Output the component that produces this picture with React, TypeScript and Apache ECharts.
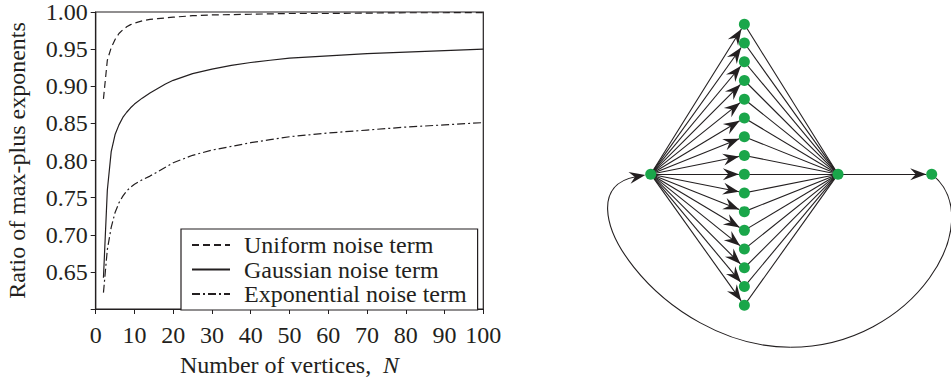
import React, { useEffect, useRef } from 'react';
import * as echarts from 'echarts';

// ---------- Left panel data ----------
const vertexCounts = [2, 3, 4, 5, 6, 7, 8, 9, 10, 12, 14, 16, 18, 20, 25, 30, 35, 40, 45, 50, 60, 70, 80, 90, 100];
const uniformRatio = [0.883, 0.935, 0.952, 0.963, 0.971, 0.976, 0.98, 0.983, 0.985, 0.988, 0.99, 0.991, 0.992, 0.993, 0.995, 0.996, 0.9965, 0.997, 0.9975, 0.998, 0.998, 0.9985, 0.999, 0.999, 0.9992];
const gaussianRatio = [0.642, 0.76, 0.812, 0.835, 0.848, 0.858, 0.865, 0.871, 0.876, 0.884, 0.891, 0.897, 0.903, 0.908, 0.917, 0.923, 0.928, 0.932, 0.935, 0.938, 0.941, 0.944, 0.946, 0.948, 0.95];
const exponentialRatio = [0.622, 0.68, 0.71, 0.73, 0.743, 0.752, 0.759, 0.764, 0.768, 0.774, 0.779, 0.785, 0.791, 0.797, 0.807, 0.814, 0.819, 0.824, 0.828, 0.832, 0.837, 0.841, 0.845, 0.848, 0.851];
const seriesNames = ['Uniform noise term', 'Gaussian noise term', 'Exponential noise term'];
const xTickRange = { min: 0, max: 100, step: 10 };
const yTickRange = { min: 0.6, max: 1.0, step: 0.05 };

// ---------- Right panel (graph) data, in graph units ----------
const middleRows = [8, 7, 6, 5, 4, 3, 2, 1, 0, -1, -2, -3, -4, -5, -6, -7];
const middleColumn = 1;
const sourceNode = [0, 0];
const hubNode = [2, 0];
const sinkNode = [3, 0];
const loopRightCurve = [[3, 0], [3.62, -2.46], [2.82, -9.24], [1.49, -9.24]];
const loopLeftCurve = [[1.49, -9.24], [0.1, -9.24], [-1.02, -0.9], [0, 0]];

const INK = '#231f20';
const GREEN = '#1aa64a';
const SERIF = 'Liberation Serif';
const NODE_SIZE = 11;
const ARROW_LEN = 16;
const ARROW_W = 12;
const ARROW_PATH = 'path://M6,16 L12,32 L6,26.5 L0,32 Z M6,0 L6,0.01';

export default function App() {
  const ref = useRef<HTMLDivElement>(null);

  useEffect(() => {
    if (!ref.current) return;
    const chart = echarts.init(ref.current, undefined, { renderer: 'svg' });

    const zip = (vals: number[]) => vertexCounts.map((n, i) => [n, vals[i]]);

    const nodes: number[][] = [sourceNode, ...middleRows.map((r) => [middleColumn, r]), hubNode, sinkNode];
    const hubIdx = middleRows.length + 1;
    const sinkIdx = middleRows.length + 2;
    const links: any[] = [];
    middleRows.forEach((_, i) => {
      links.push({ source: 0, target: i + 1 });
    });
    middleRows.forEach((_, i) => {
      links.push({ source: i + 1, target: hubIdx, symbol: ['none', 'none'] });
    });
    links.push({ source: hubIdx, target: sinkIdx });

    const option: any = {
      animation: false,
      backgroundColor: '#ffffff',
      textStyle: { fontFamily: SERIF, color: INK },
      grid: [
        { left: 95.7, top: 12, width: 387.6, height: 305, show: true, borderColor: INK, borderWidth: 1.2, backgroundColor: 'transparent' },
        { left: 650.7, top: 24.3, width: 281, height: 281, show: false },
      ],
      xAxis: [
        {
          gridIndex: 0,
          type: 'value',
          min: xTickRange.min,
          max: xTickRange.max,
          interval: xTickRange.step,
          name: 'Number of vertices,  {n|N}',
          nameLocation: 'middle',
          nameGap: 44,
          nameTextStyle: {
            fontFamily: SERIF, fontSize: 24, color: INK,
            rich: { n: { fontFamily: SERIF, fontSize: 24, color: INK, fontStyle: 'italic' } },
          },
          axisLine: { show: true, lineStyle: { color: INK, width: 1.2 } },
          axisTick: { show: true, inside: false, length: 5, lineStyle: { color: INK, width: 1 } },
          axisLabel: { fontFamily: SERIF, fontSize: 24, color: INK, margin: 14, showMaxLabel: true, showMinLabel: true },
          splitLine: { show: false },
        },
        { gridIndex: 1, type: 'value', min: 0, max: 3, show: false },
      ],
      yAxis: [
        {
          gridIndex: 0,
          type: 'value',
          min: yTickRange.min,
          max: yTickRange.max,
          interval: yTickRange.step,
          name: 'Ratio of max-plus exponents',
          nameLocation: 'middle',
          nameGap: 67,
          nameTextStyle: { fontFamily: SERIF, fontSize: 24, color: INK },
          axisLine: { show: true, lineStyle: { color: INK, width: 1.2 } },
          axisTick: { show: true, inside: false, length: 5, lineStyle: { color: INK, width: 1 } },
          axisLabel: {
            fontFamily: SERIF, fontSize: 24, color: INK, margin: 8,
            formatter: (v: number) => (v < yTickRange.min + yTickRange.step / 2 ? '' : v.toFixed(2)),
          },
          splitLine: { show: false },
        },
        { gridIndex: 1, type: 'value', min: -7, max: 8, show: false },
      ],
      legend: {
        show: true,
        data: seriesNames,
        orient: 'vertical',
        left: 181,
        top: 229,
        padding: [4, 11, 4, 10],
        itemGap: 0.5,
        itemWidth: 38,
        itemHeight: 14,
        borderColor: INK,
        borderWidth: 1.2,
        borderRadius: 0,
        backgroundColor: '#ffffff',
        selectedMode: false,
        align: 'left',
        itemStyle: { opacity: 0 },
        textStyle: { fontFamily: SERIF, fontSize: 24, color: INK, lineHeight: 24, padding: [0, 0, 0, 9] },
      },
      series: [
        {
          name: seriesNames[0], type: 'line', xAxisIndex: 0, yAxisIndex: 0, data: zip(uniformRatio),
          symbol: 'none', showSymbol: false, lineStyle: { color: INK, width: 1.2, type: [7, 4] }, itemStyle: { color: INK }, silent: true, z: 3,
        },
        {
          name: seriesNames[1], type: 'line', xAxisIndex: 0, yAxisIndex: 0, data: zip(gaussianRatio),
          symbol: 'none', showSymbol: false, lineStyle: { color: INK, width: 1.2, type: 'solid' }, itemStyle: { color: INK }, silent: true, z: 3,
        },
        {
          name: seriesNames[2], type: 'line', xAxisIndex: 0, yAxisIndex: 0, data: zip(exponentialRatio),
          symbol: 'none', showSymbol: false, lineStyle: { color: INK, width: 1.2, type: [8, 3, 2, 3] }, itemStyle: { color: INK }, silent: true, z: 3,
        },
        {
          type: 'custom',
          coordinateSystem: 'cartesian2d',
          xAxisIndex: 1,
          yAxisIndex: 1,
          data: [sourceNode],
          silent: true,
          z: 2,
          renderItem: (_params: any, api: any) => {
            const r = loopRightCurve.map((p) => api.coord(p));
            const l = loopLeftCurve.map((p) => api.coord(p));
            const target = l[3];
            const dx = target[0] - l[2][0];
            const dy = target[1] - l[2][1];
            const len = Math.hypot(dx, dy) || 1;
            const ux = dx / len;
            const uy = dy / len;
            const nx = -uy;
            const ny = ux;
            const rad = NODE_SIZE / 2;
            const tip = [target[0] - ux * rad, target[1] - uy * rad];
            const back = [tip[0] - ux * ARROW_LEN, tip[1] - uy * ARROW_LEN];
            const notch = [tip[0] - ux * ARROW_LEN * 0.66, tip[1] - uy * ARROW_LEN * 0.66];
            const half = ARROW_W / 2;
            const end = [tip[0] - ux * ARROW_LEN * 0.6, tip[1] - uy * ARROW_LEN * 0.6];
            const stroke = { stroke: INK, lineWidth: 1.1, fill: null };
            return {
              type: 'group',
              children: [
                {
                  type: 'bezierCurve',
                  shape: { x1: r[0][0], y1: r[0][1], cpx1: r[1][0], cpy1: r[1][1], cpx2: r[2][0], cpy2: r[2][1], x2: r[3][0], y2: r[3][1] },
                  style: stroke,
                },
                {
                  type: 'bezierCurve',
                  shape: { x1: l[0][0], y1: l[0][1], cpx1: l[1][0], cpy1: l[1][1], cpx2: l[2][0], cpy2: l[2][1], x2: end[0], y2: end[1] },
                  style: stroke,
                },
                {
                  type: 'polygon',
                  shape: {
                    points: [
                      tip,
                      [back[0] + nx * half, back[1] + ny * half],
                      notch,
                      [back[0] - nx * half, back[1] - ny * half],
                    ],
                  },
                  style: { fill: INK, stroke: null },
                },
              ],
            };
          },
        },
        {
          type: 'graph',
          coordinateSystem: 'cartesian2d',
          xAxisIndex: 1,
          yAxisIndex: 1,
          layout: 'none',
          symbol: 'circle',
          symbolSize: NODE_SIZE,
          itemStyle: { color: GREEN },
          edgeSymbol: ['none', ARROW_PATH],
          edgeSymbolSize: [0, [ARROW_W, ARROW_LEN * 2]],
          lineStyle: { color: INK, width: 1.1, opacity: 1, curveness: 0 },
          label: { show: false },
          emphasis: { disabled: true },
          silent: true,
          data: nodes.map((p) => ({ value: p })),
          links,
          z: 4,
        },
      ],
    };

    chart.setOption(option);
    return () => chart.dispose();
  }, []);

  return (
    <div
      ref={ref}
      style={{ position: 'absolute', left: 0, top: 0, width: 951, height: 382, background: '#ffffff' }}
    />
  );
}
